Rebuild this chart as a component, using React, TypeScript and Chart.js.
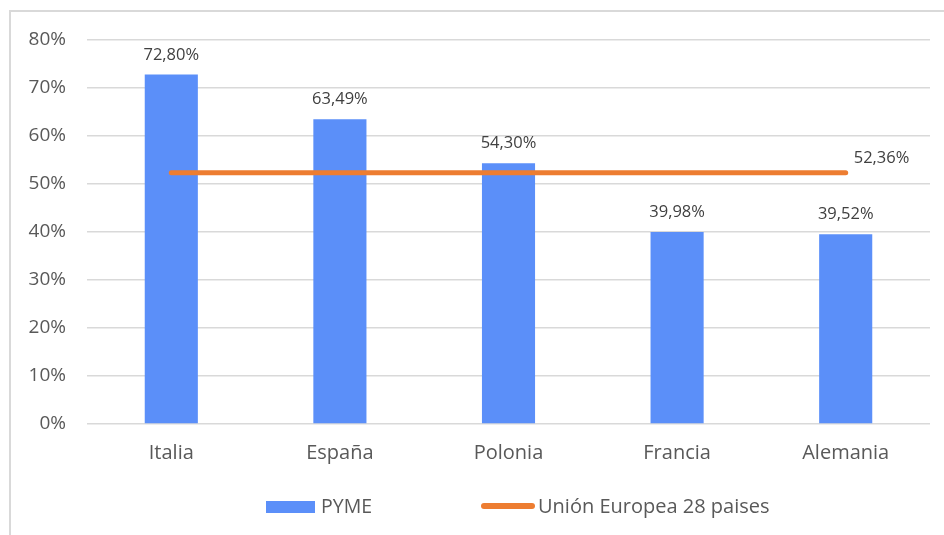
import React, { useEffect, useRef } from "react";
import { Chart, registerables } from "chart.js";

Chart.register(...registerables);

const categories = ["Italia", "España", "Polonia", "Francia", "Alemania"];
const pymeValues = [72.8, 63.49, 54.3, 39.98, 39.52];
const euValues = [52.36, 52.36, 52.36, 52.36, 52.36];
const pymeLabel = "PYME";
const euLabel = "Unión Europea 28 paises";

const FONT = "'Open Sans', Lato, sans-serif";
const BAR_COLOR = "#5B8FF9";
const LINE_COLOR = "#ED7D31";
const TEXT = "#595959";
const LABEL = "#404040";
const GRID = "#d9d9d9";

const fmt = (v: number) => v.toFixed(2).replace(".", ",") + "%";

const labelPlugin = {
  id: "valueLabels",
  afterDatasetsDraw(chart: any) {
    const ctx = chart.ctx;
    ctx.save();
    ctx.font = `16.5px ${FONT}`;
    ctx.fillStyle = LABEL;
    ctx.textBaseline = "alphabetic";
    const barMeta = chart.getDatasetMeta(0);
    barMeta.data.forEach((el: any, i: number) => {
      ctx.textAlign = "center";
      ctx.fillText(fmt(pymeValues[i]), el.x, el.y - 15);
    });
    const lineMeta = chart.getDatasetMeta(1);
    const last = lineMeta.data[lineMeta.data.length - 1];
    ctx.textAlign = "left";
    ctx.textBaseline = "middle";
    ctx.fillText(fmt(euValues[euValues.length - 1]), last.x + 8, last.y - 14);
    ctx.restore();
  },
};

export default function App() {
  const ref = useRef<HTMLCanvasElement | null>(null);
  useEffect(() => {
    if (!ref.current) return;
    const chart = new Chart(ref.current, {
      type: "bar",
      data: {
        labels: categories,
        datasets: [
          {
            type: "bar",
            label: pymeLabel,
            data: pymeValues,
            backgroundColor: BAR_COLOR,
            categoryPercentage: 0.315,
            barPercentage: 1,
            order: 2,
          },
          {
            type: "line",
            label: euLabel,
            data: euValues,
            borderColor: LINE_COLOR,
            backgroundColor: LINE_COLOR,
            borderWidth: 5,
            borderCapStyle: "round",
            pointRadius: 0,
            pointHoverRadius: 0,
            fill: false,
            order: 1,
          },
        ],
      } as any,
      options: {
        responsive: false,
        animation: false,
        layout: { padding: { left: 0, right: 14, top: 40, bottom: 0 } },
        plugins: {
          legend: { display: false },
          tooltip: { enabled: false },
        },
        scales: {
          x: {
            grid: { display: false, drawTicks: false },
            border: { display: false },
            ticks: { color: TEXT, font: { family: FONT, size: 20 }, padding: 17 },
            afterFit: (s: any) => {
              s.height = 111;
            },
          },
          y: {
            min: 0,
            max: 80,
            grid: { color: GRID, lineWidth: 1.5, drawTicks: false },
            border: { display: false },
            ticks: {
              stepSize: 10,
              color: TEXT,
              font: { family: FONT, size: 19 },
              padding: 21,
              callback: (v: any) => v + "%",
            },
            afterFit: (s: any) => {
              s.width = 87;
            },
          },
        },
      } as any,
      plugins: [labelPlugin],
    });
    return () => chart.destroy();
  }, []);

  return (
    <div style={{ position: "fixed", left: 0, top: 0, width: 944, height: 535, background: "#fff", overflow: "hidden", fontFamily: FONT }}>
      <div style={{ position: "absolute", left: 9, top: 10, width: 2000, height: 2000, borderLeft: `2px solid ${GRID}`, borderTop: `2px solid ${GRID}` }} />
      <canvas ref={ref} width={944} height={535} style={{ position: "absolute", left: 0, top: 0, display: "block" }} />
      <div style={{ position: "absolute", left: 266, top: 501, width: 49, height: 12, background: BAR_COLOR }} />
      <div style={{ position: "absolute", left: 321, top: 494, fontSize: 19.5, lineHeight: "24px", color: TEXT, whiteSpace: "nowrap" }}>{pymeLabel}</div>
      <div style={{ position: "absolute", left: 481, top: 503, width: 54, height: 6, background: LINE_COLOR, borderRadius: 3 }} />
      <div style={{ position: "absolute", left: 538, top: 494, fontSize: 20, lineHeight: "24px", color: TEXT, whiteSpace: "nowrap" }}>{euLabel}</div>
    </div>
  );
}
